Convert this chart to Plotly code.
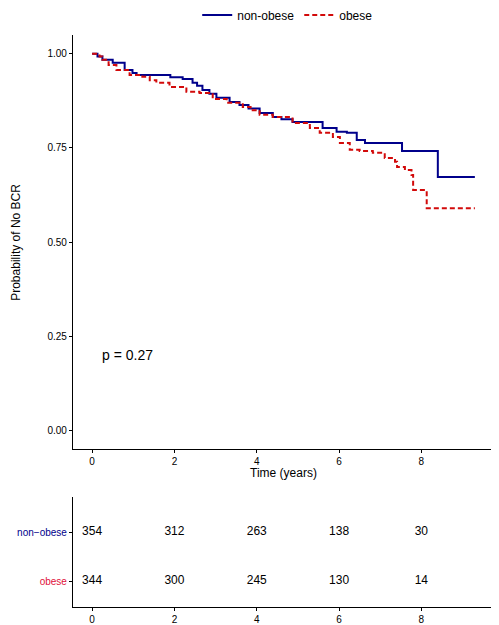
import plotly.graph_objects as go

# ---- data ----
groups = ["non-obese", "obese"]

nonobese_time = [0, 0.13, 0.25, 0.5, 0.79, 0.98, 1.08, 1.9, 2.2, 2.44, 2.55, 2.68, 2.85,
                 3.02, 3.34, 3.58, 3.8, 4.07, 4.39, 4.6, 4.87, 5.6, 5.94, 6.19, 6.43,
                 6.63, 7.53, 8.4, 9.3]
nonobese_surv = [1.0, 0.993, 0.984, 0.976, 0.957, 0.949, 0.944, 0.938, 0.933, 0.923, 0.915,
                 0.904, 0.894, 0.883, 0.872, 0.864, 0.855, 0.843, 0.832, 0.826, 0.819,
                 0.803, 0.793, 0.79, 0.771, 0.763, 0.742, 0.673, 0.673]

obese_time = [0, 0.18, 0.25, 0.4, 0.59, 0.91, 1.22, 1.4, 1.56, 1.88, 2.29, 2.61, 2.93,
              3.27, 3.66, 3.85, 4.07, 4.39, 4.87, 5.29, 5.53, 5.85, 6.02, 6.26, 6.5,
              6.82, 7.11, 7.36, 7.41, 7.6, 7.76, 7.8, 8.13, 9.3]
obese_surv = [1.0, 0.993, 0.984, 0.97, 0.957, 0.944, 0.939, 0.93, 0.923, 0.912, 0.899,
              0.896, 0.880, 0.870, 0.859, 0.85, 0.838, 0.832, 0.816, 0.803, 0.79, 0.779,
              0.763, 0.745, 0.742, 0.737, 0.723, 0.713, 0.699, 0.691, 0.678, 0.638,
              0.590, 0.590]

risk_times = [0, 2, 4, 6, 8]
risk_nonobese = [354, 312, 263, 138, 30]
risk_obese = [344, 300, 245, 130, 14]

y_ticks = [0, 0.25, 0.5, 0.75, 1.0]
y_ticklabels = ["0.00", "0.25", "0.50", "0.75", "1.00"]
x_ticks = [0, 2, 4, 6, 8]

p_text = "p = 0.27"

BLUE = "#00008B"
RED = "#D20A0A"
RED_LABEL = "#E0103A"
FONT = "Liberation Sans, Arial, sans-serif"

fig = go.Figure()

fig.add_trace(go.Scatter(x=nonobese_time, y=nonobese_surv, mode="lines", name=groups[0],
                         line=dict(color=BLUE, width=2, shape="hv"), xaxis="x", yaxis="y"))
fig.add_trace(go.Scatter(x=obese_time, y=obese_surv, mode="lines", name=groups[1],
                         line=dict(color=RED, width=2, shape="hv", dash="5px,3px"),
                         xaxis="x", yaxis="y"))

fig.add_trace(go.Scatter(x=risk_times, y=[2] * len(risk_times), mode="text",
                         text=[str(v) for v in risk_nonobese], showlegend=False,
                         textfont=dict(size=12, color="black", family=FONT),
                         xaxis="x2", yaxis="y2"))
fig.add_trace(go.Scatter(x=risk_times, y=[1] * len(risk_times), mode="text",
                         text=[str(v) for v in risk_obese], showlegend=False,
                         textfont=dict(size=12, color="black", family=FONT),
                         xaxis="x2", yaxis="y2"))

xrange = [-0.465, 9.765]
axis_common = dict(showline=True, linecolor="black", linewidth=1.2, ticks="outside",
                   ticklen=3, tickcolor="black", showgrid=False, zeroline=False,
                   automargin=False,
                   tickfont=dict(size=10, color="black", family=FONT))

# page body has an 8px default margin; the figure is sized/offset to compensate
fig.update_layout(
    width=491, height=617,
    margin=dict(l=65, r=5, t=27, b=18, autoexpand=False),
    paper_bgcolor="white", plot_bgcolor="white",
    font=dict(family=FONT, color="black"),
    xaxis=dict(domain=[0, 1], range=xrange, tickvals=x_ticks, anchor="y", **axis_common),
    yaxis=dict(domain=[0.2762, 1], range=[-0.05, 1.05], tickvals=y_ticks,
               ticktext=y_ticklabels, anchor="x", **axis_common),
    xaxis2=dict(domain=[0, 1], range=xrange, tickvals=x_ticks, anchor="y2", **axis_common),
    yaxis2=dict(domain=[0, 0.1923], range=[0.47, 2.714], tickvals=[2, 1],
                ticktext=[f"<span style='color:{BLUE}'>non\u2212obese</span>",
                          f"<span style='color:{RED_LABEL}'>obese</span>"],
                anchor="x2", **axis_common),
    legend=dict(orientation="h", x=0.51, xanchor="center", y=1.035, yanchor="middle",
                font=dict(size=12, family=FONT, color="black"), itemwidth=30,
                bgcolor="rgba(0,0,0,0)", tracegroupgap=0),
    showlegend=True,
)

fig.add_annotation(x=0.19, y=0.2, xref="x", yref="y", text=p_text, showarrow=False,
                   xanchor="left", yanchor="middle", font=dict(size=14, family=FONT))
fig.add_annotation(x=0.5, y=0.2343, xref="paper", yref="paper", text="Time (years)",
                   showarrow=False, xanchor="center", yanchor="middle",
                   font=dict(size=12, family=FONT))
fig.add_annotation(x=-0.136, y=0.638, xref="paper", yref="paper",
                   text="Probability of No BCR", textangle=-90, showarrow=False,
                   xanchor="center", yanchor="middle", font=dict(size=12, family=FONT))

fig.write_html("out.html")
